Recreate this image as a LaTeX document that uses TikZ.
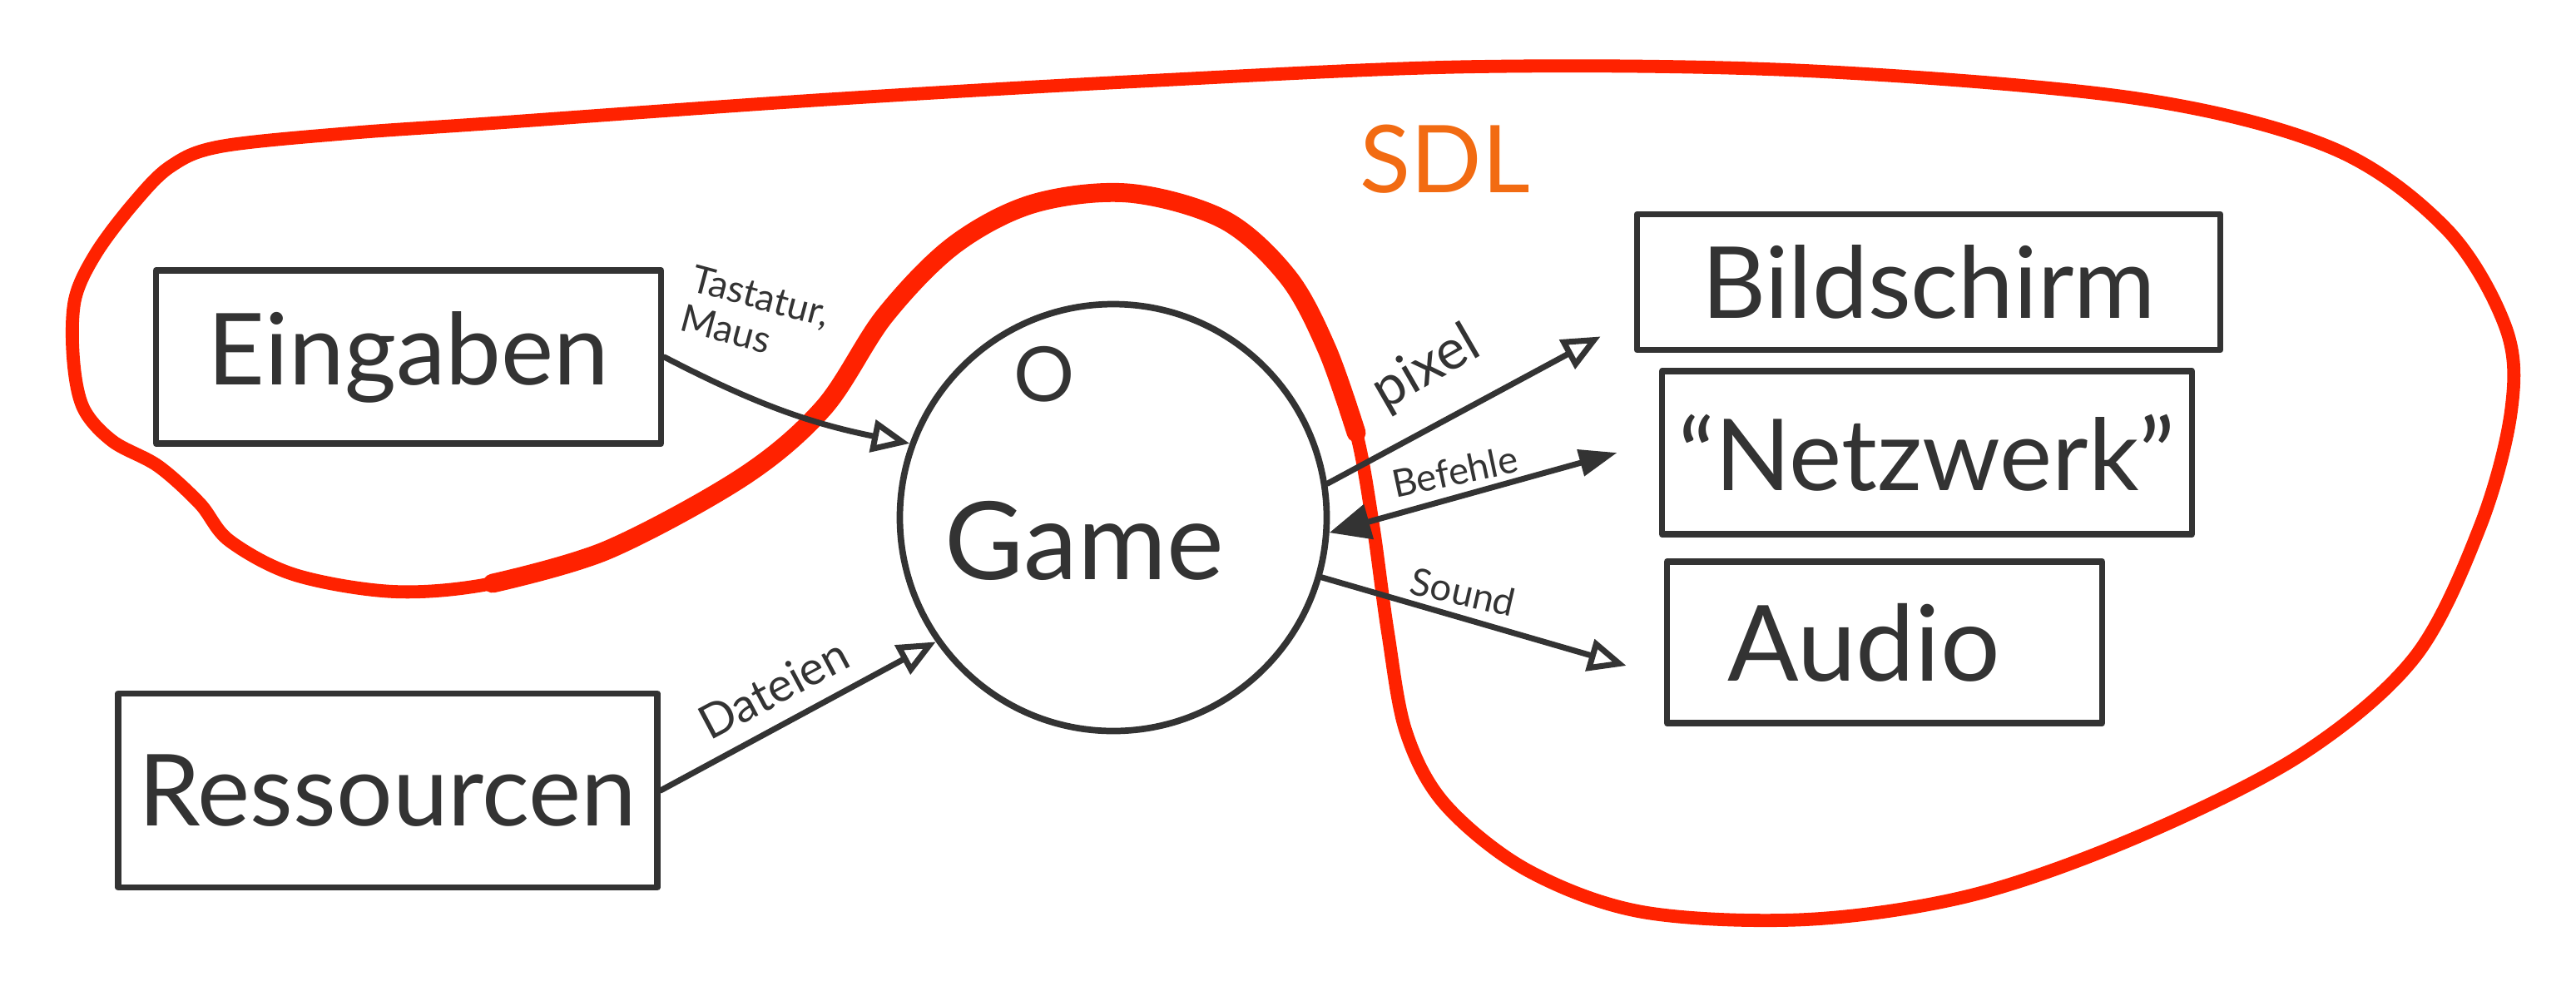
\documentclass[tikz,border=0pt]{standalone}
\usepackage{fontspec}
\setmainfont{Lato}
\usetikzlibrary{arrows.meta}

\definecolor{pen}{HTML}{333333}
\definecolor{sdlred}{HTML}{FF2200}
\definecolor{sdlorange}{HTML}{F26B12}

\begin{document}
\begin{tikzpicture}[line width=2pt, color=pen, line cap=round, line join=round,
                box/.style={rectangle, draw=pen, line width=2.2pt, inner sep=0pt, font=\fontsize{34}{38}\selectfont},
                lbl/.style={font=\fontsize{13}{14}\selectfont, text=pen, inner sep=1pt},
                open head/.style={-{Triangle[open, length=13pt, width=11pt, line width=2pt]}},
                full heads/.style={{Triangle[length=14pt, width=12pt]}-{Triangle[length=13pt, width=9pt]}}]

            \useasboundingbox (0,0) rectangle (30.96,-12.08);

            % SDL border, a bit thicker round the small loop
            \draw[sdlred, line width=4.5pt] plot[smooth cycle, tension=0.55] coordinates {
                (2.65,-1.76) (4.20,-1.60) (5.92,-1.48) (9.87,-1.20) (13.82,-0.97) (17.77,-0.80) (21.71,-0.85)
                (25.66,-1.18) (28.03,-1.78) (29.41,-2.76) (30.12,-3.95) (30.18,-4.94) (29.81,-6.32)
                (29.02,-7.90) (27.64,-9.08) (25.66,-10.07) (23.69,-10.76) (21.71,-11.05) (19.74,-10.96)
                (18.36,-10.46) (17.37,-9.67) (16.90,-8.80) (16.68,-7.60) (16.50,-6.30) (16.30,-5.20)
                (15.95,-4.20) (15.48,-3.33) (14.71,-2.64) (13.56,-2.32) (12.41,-2.45) (11.46,-2.95)
                (10.63,-3.80) (9.90,-4.90) (8.93,-5.73) (7.30,-6.61) (5.92,-7.01) (4.74,-7.11)
                (3.55,-6.91) (2.76,-6.50) (2.40,-6.05) (1.90,-5.60) (1.35,-5.30) (1.00,-4.90)
                (0.88,-4.30) (0.90,-3.60) (1.15,-3.05) (1.60,-2.45) (2.05,-2.00)};
            \draw[sdlred, line width=6.5pt] plot[smooth, tension=0.55] coordinates {
                (16.30,-5.20) (15.95,-4.20) (15.48,-3.33) (14.71,-2.64) (13.56,-2.32) (12.41,-2.45)
                (11.46,-2.95) (10.63,-3.80) (9.90,-4.90) (8.93,-5.73) (7.30,-6.61) (5.92,-7.01)};

            \node[text=sdlorange, font=\fontsize{32}{36}\selectfont] (sdl) at (17.37,-1.91) {SDL};

            \node[box, minimum width=6.07cm, minimum height=2.08cm] (eing) at (4.91,-4.29) {Eingaben};
            \node[box, minimum width=6.48cm, minimum height=2.33cm] (ress) at (4.66,-9.50) {Ressourcen};
            \node[circle, draw=pen, line width=2.2pt, minimum size=5.13cm, inner sep=0pt] (game) at (13.38,-6.22) {};
            \node[font=\fontsize{37}{40}\selectfont] (gamename) at (13.03,-6.50) {Game};
            \node[font=\fontsize{26}{28}\selectfont] (state) at (12.55,-4.50) {O};
            \node[box, minimum width=7.01cm, minimum height=1.63cm] (bild) at (23.18,-3.39) {Bildschirm};
            \node[box, minimum width=6.37cm, minimum height=1.96cm] (netz) at (23.16,-5.44) {“Netzwerk”};
            \node[box, minimum width=5.23cm, minimum height=1.94cm, font=\fontsize{36}{40}\selectfont] (audio) at (22.65,-7.72) {Audio\hspace*{0.5cm}};

            \path[every node/.style={lbl}]
            (eing.east) edge [open head, bend right=8] node[pos=0.33, above=14pt, rotate=-15, align=left] {Tastatur,\\Maus} (game.160)
            (ress.east) edge [open head] node[pos=0.45, above=5pt, rotate=28, font=\fontsize{16}{17}\selectfont] {Dateien} (game.215)
            (game.9) edge [open head] node[pos=0.42, above=9pt, rotate=30, font=\fontsize{19}{20}\selectfont] {pixel} ([shift={(-0.4,0.2)}]bild.south west)
            (game.-4) edge [full heads] node[pos=0.45, above=2pt, rotate=12] {Befehle} ([xshift=-0.5cm]netz.west)
            (game.-16) edge [open head] node[pos=0.45, above=2pt, rotate=-13] {Sound} ([shift={(-0.45,-0.28)}]audio.west);

        \end{tikzpicture}
\end{document}
